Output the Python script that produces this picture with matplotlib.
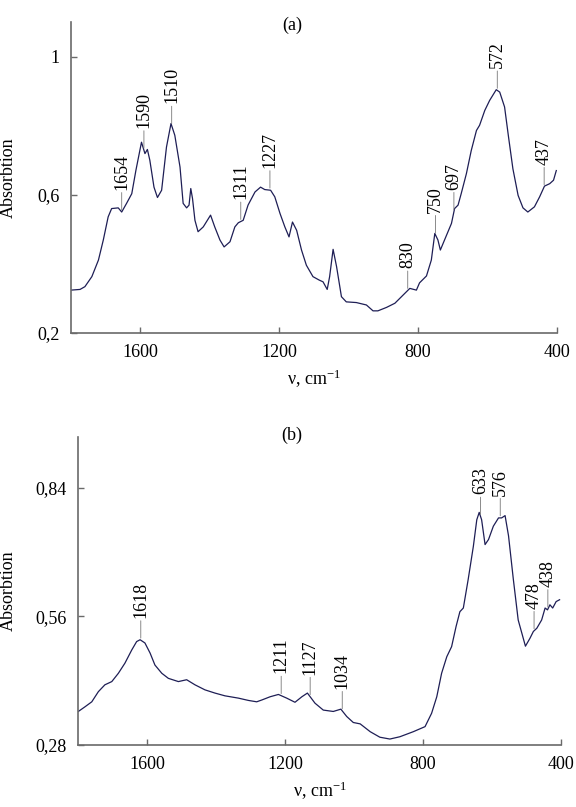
# Espectros IR de absorción (a) y (b), reconstruidos a partir de la figura original

import numpy as np
import matplotlib
matplotlib.use("Agg")
import matplotlib.pyplot as plt

plt.rcParams['font.family'] = ['Liberation Serif', 'DejaVu Serif']
plt.rcParams['mathtext.fontset'] = 'custom'
plt.rcParams['mathtext.rm'] = 'Liberation Serif'
plt.rcParams['mathtext.it'] = 'Liberation Serif:italic'

# Espectro (a): número de onda (cm-1) y absorción
nu_a = [1800, 1774, 1760, 1740, 1721, 1707, 1693, 1683, 1664, 1654, 1640, 1625, 1613,
        1597, 1587, 1580, 1573, 1561, 1551, 1539, 1525, 1512, 1501, 1486, 1477, 1467,
        1460, 1455, 1450, 1443, 1434, 1419, 1398, 1386, 1371, 1359, 1342, 1328, 1318,
        1304, 1290, 1270, 1254, 1242, 1225, 1213, 1198, 1184, 1172, 1162, 1150, 1136,
        1122, 1103, 1085, 1074, 1062, 1055, 1045, 1035, 1021, 1007, 978, 949, 930, 916,
        891, 867, 848, 824, 805, 796, 776, 762, 752, 743, 736, 724, 704, 695, 685, 676,
        661, 647, 632, 623, 608, 594, 575, 565, 551, 540, 527, 512, 498, 484, 465, 450,
        436, 421, 410, 402]
abs_a = [0.324, 0.326, 0.334, 0.363, 0.411, 0.469, 0.536, 0.560, 0.562, 0.550, 0.575, 0.603, 0.671,
         0.752, 0.719, 0.731, 0.700, 0.622, 0.592, 0.613, 0.738, 0.806, 0.772, 0.680, 0.575, 0.562,
         0.570, 0.618, 0.589, 0.526, 0.493, 0.507, 0.541, 0.507, 0.469, 0.449, 0.464, 0.507, 0.519,
         0.526, 0.570, 0.608, 0.622, 0.615, 0.613, 0.594, 0.546, 0.507, 0.478, 0.521, 0.497, 0.440,
         0.396, 0.363, 0.353, 0.348, 0.326, 0.363, 0.442, 0.392, 0.305, 0.290, 0.288, 0.281, 0.264, 0.264,
         0.274, 0.286, 0.305, 0.329, 0.324, 0.345, 0.365, 0.411, 0.488, 0.469, 0.440, 0.469, 0.517, 0.560, 0.570, 0.603,
         0.661, 0.728, 0.786, 0.801, 0.844, 0.873, 0.904, 0.897, 0.854, 0.770, 0.675, 0.598, 0.562, 0.550, 0.565, 0.594,
         0.625, 0.632, 0.642, 0.670]
picos_a = [1654, 1590, 1510, 1311, 1227, 830, 750, 697, 572, 437]

# Espectro (b)
nu_b = [1799, 1780, 1760, 1741, 1722, 1702, 1683, 1664, 1644, 1630, 1620, 1606, 1591,
        1577, 1557, 1538, 1509, 1485, 1461, 1432, 1403, 1374, 1335, 1306, 1282, 1267,
        1243, 1219, 1195, 1171, 1151, 1135, 1113, 1089, 1060, 1038, 1021, 1002, 982, 953,
        925, 896, 867, 828, 794, 775, 760, 746, 731, 717, 704, 693, 683, 669, 654, 644,
        637, 630, 620, 610, 596, 581, 572, 562, 552, 538, 524, 503, 490, 480, 470, 456,
        446, 439, 432, 424, 414, 404]
abs_b = [0.353, 0.363, 0.374, 0.396, 0.411, 0.418, 0.436, 0.458, 0.487, 0.505, 0.509, 0.502, 0.480,
         0.454, 0.436, 0.425, 0.418, 0.422, 0.411, 0.400, 0.393, 0.387, 0.382, 0.377, 0.374, 0.378,
         0.385, 0.390, 0.382, 0.373, 0.385, 0.393, 0.371, 0.356, 0.353, 0.358, 0.342, 0.329, 0.326, 0.309,
         0.297, 0.293, 0.298, 0.309, 0.320, 0.349, 0.385, 0.436, 0.472, 0.494, 0.538, 0.570, 0.578, 0.640, 0.712, 0.770,
         0.786, 0.770, 0.716, 0.727, 0.756, 0.774, 0.774, 0.779, 0.735, 0.640, 0.552, 0.495, 0.512, 0.527, 0.534, 0.552,
         0.578, 0.574, 0.585, 0.578, 0.592, 0.596]
picos_b = [1618, 1211, 1127, 1034, 633, 576, 478, 438]

COLOR_LINEA = '#1e1e55'
COLOR_EJE = '#6a6a6a'


def anotar(ax, nu, ab, picos):
    nu_inc = np.array(nu)[::-1]
    ab_inc = np.array(ab)[::-1]
    for p in picos:
        y = np.interp(p, nu_inc, ab_inc)
        ax.annotate(str(p), xy=(p, y), xytext=(0, 16), textcoords='offset points',
                    rotation=90, ha='center', va='bottom', fontsize=13,
                    arrowprops=dict(arrowstyle='-', color='#777777', lw=0.6,
                                    shrinkA=0, shrinkB=1.5))


def preparar_eje(ax, ylim, yticks, ylabels):
    ax.set_xlim(1800, 400)
    ax.set_ylim(*ylim)
    ax.set_xticks([1600, 1200, 800, 400])
    ax.set_yticks(yticks)
    ax.set_yticklabels(ylabels)
    for lado in ['top', 'right']:
        ax.spines[lado].set_visible(False)
    for lado in ['left', 'bottom']:
        ax.spines[lado].set_color(COLOR_EJE)
        ax.spines[lado].set_linewidth(1.2)
    ax.tick_params(direction='in', length=4, width=1, color=COLOR_EJE,
                   labelsize=13, pad=8)
    ax.set_xlabel(r"ν, cm$^{-1}$", fontsize=13, labelpad=5)
    ax.set_ylabel("Absorbtion", fontsize=13)


fig = plt.figure(figsize=(5.76, 8.07), dpi=100)
ax_a = fig.add_axes([0.1233, 0.5874, 0.8437, 0.3854])
ax_b = fig.add_axes([0.1354, 0.0768, 0.8385, 0.3817])

ax_a.plot(nu_a, abs_a, color=COLOR_LINEA, lw=0.9)
preparar_eje(ax_a, (0.2, 1.1), [0.2, 0.6, 1.0], ["0,2", "0,6", "1"])
anotar(ax_a, nu_a, abs_a, picos_a)
ax_a.yaxis.set_label_coords(-0.111, 0.5)

ax_b.plot(nu_b, abs_b, color=COLOR_LINEA, lw=0.9)
preparar_eje(ax_b, (0.28, 0.95), [0.28, 0.56, 0.84], ["0,28", "0,56", "0,84"])
anotar(ax_b, nu_b, abs_b, picos_b)
ax_b.yaxis.set_label_coords(-0.126, 0.5)

fig.text(0.507, 1 - 25 / 807, "(a)", ha='center', va='center', fontsize=13)
fig.text(0.507, 1 - 435 / 807, "(b)", ha='center', va='center', fontsize=13)

fig.savefig("out.png", dpi=100)
